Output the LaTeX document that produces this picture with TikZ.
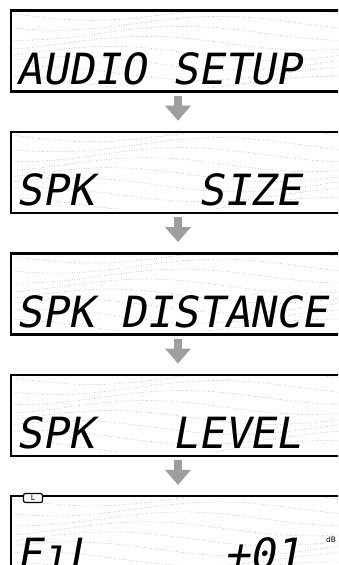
\documentclass[tikz,border=0pt]{standalone}
\usepackage{fontspec}
\usetikzlibrary{arrows.meta,positioning}
\newfontfamily\lcdfont[FakeSlant=0.18]{DejaVu Sans Mono}
\newfontfamily\tagfont{DejaVu Sans}
\colorlet{wavegray}{black!45}
\colorlet{arrowgray}{black!38}

% unlit background pattern of one display
\newcommand{\lcdwaves}[1]{%
  \begin{scope}[shift={(#1.north west)}]
    \clip (3,3) rectangle (331,78);
    \foreach \k in {0,...,7}
      \draw[wave] plot[domain=0:340,samples=50] (\x,{4+10*\k+7*sin(1.1*\x+40*\k)});
  \end{scope}}

\begin{document}
\begin{tikzpicture}[x=1bp,y=-1bp,
  node distance=38bp,
  lcd/.style={draw,line width=2.4bp,minimum width=334bp,minimum height=81bp,inner sep=0pt},
  seg/.style={anchor=base west,inner sep=0pt,font=\lcdfont\fontsize{43bp}{44bp}\selectfont},
  wave/.style={wavegray,dotted,line width=0.5bp},
  flow/.style={arrowgray,line width=8bp,shorten <=3bp,shorten >=10bp,-{Triangle[length=15bp,width=25bp]}}
]
\clip (0,0) rectangle (338,565);
\node[lcd] (lcd1) at (178,51) {};
\node[lcd,below=of lcd1] (lcd2) {};
\node[lcd,below=of lcd2] (lcd3) {};
\node[lcd,below=of lcd3] (lcd4) {};
\node[lcd,below=of lcd4] (lcd5) {};
\foreach \n in {1,...,5} {\lcdwaves{lcd\n}}

% display texts
\node[seg] (txt1) at ([xshift=7bp,yshift=-75bp]lcd1.north west) {AUDIO~SETUP};
\node[seg] (txt2) at ([xshift=7bp,yshift=-75bp]lcd2.north west) {SPK~~~~SIZE};
\node[seg] (txt3) at ([xshift=7bp,yshift=-75bp]lcd3.north west) {SPK~DISTANCE};
\node[seg] (txt4) at ([xshift=7bp,yshift=-75bp]lcd4.north west) {SPK~~~LEVEL};
\node[seg] (txt5) at ([xshift=7bp,yshift=-75bp]lcd5.north west) {FıL~~~~~+01};
\node[draw,fill=white,rounded corners=2bp,line width=1.2bp,minimum width=19bp,minimum height=9bp,inner sep=0pt,
  font=\tagfont\fontsize{7.5bp}{7.5bp}\selectfont] (chan) at (33,498) {L};
\node[fill=white,inner sep=1pt,font=\tagfont\fontsize{7.5bp}{7.5bp}\selectfont] (db) at (331,540) {dB};

\draw[flow] (lcd1) -- (lcd2);
\draw[flow] (lcd2) -- (lcd3);
\draw[flow] (lcd3) -- (lcd4);
\draw[flow] (lcd4) -- (lcd5);
\end{tikzpicture}
\end{document}
